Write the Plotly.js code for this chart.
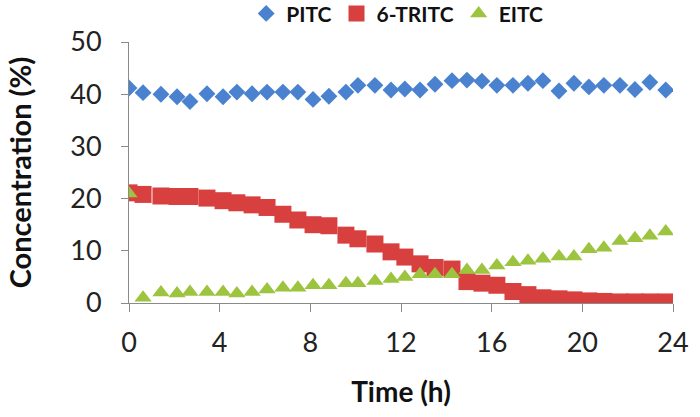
<!DOCTYPE html>
<html>
<head>
<meta charset="utf-8">
<script src="https://cdn.plot.ly/plotly-3.0.1.min.js"></script>
<style>html,body{margin:0;padding:0;background:#fff;}#chart{width:700px;height:417px;}</style>
</head>
<body>
<div id="chart"></div>
<script>
var timeH = [0, 0.62, 1.41, 2.12, 2.69, 3.44, 4.15, 4.76, 5.43, 6.09, 6.79, 7.45, 8.12, 8.82, 9.57, 10.1, 10.85, 11.56, 12.17, 12.84, 13.5, 14.25, 14.91, 15.57, 16.23, 16.94, 17.6, 18.26, 18.97, 19.63, 20.29, 20.95, 21.66, 22.32, 22.98, 23.68];
var pitc = [41.2, 40.3, 40, 39.5, 38.6, 40.1, 39.5, 40.4, 40.1, 40.4, 40.4, 40.4, 39, 39.6, 40.4, 41.7, 41.7, 40.8, 41, 40.8, 41.9, 42.6, 42.7, 42.5, 41.7, 41.7, 42.1, 42.6, 40.6, 42.1, 41.4, 41.7, 41.7, 40.9, 42.3, 40.8];
var tritc = [21.1, 20.8, 20.5, 20.4, 20.4, 20.1, 19.6, 19.2, 18.8, 18.3, 17.0, 15.9, 15.0, 14.8, 13.0, 12.3, 11.3, 9.8, 8.8, 7.5, 6.8, 6.5, 4.1, 3.8, 3.4, 2.2, 1.6, 1.0, 0.8, 0.6, 0.4, 0.3, 0.2, 0.2, 0.2, 0.2];
var eitc = [21, 1.0, 2.0, 1.8, 2.1, 2.1, 2.1, 1.8, 2.1, 2.6, 2.9, 2.9, 3.4, 3.4, 3.8, 3.8, 4.2, 4.6, 5.0, 5.5, 5.5, 5.5, 6.3, 6.3, 7.2, 7.8, 8.1, 8.5, 8.9, 8.9, 10.3, 10.6, 11.9, 12.4, 12.9, 13.7];
var seriesNames = ['PITC', '6-TRITC', 'EITC'];
var xTicks = [0, 4, 8, 12, 16, 20, 24];
var yTicks = [0, 10, 20, 30, 40, 50];

var FONT = 'Lato, "Open Sans", sans-serif';
var traces = [
  {x: timeH, y: pitc, name: seriesNames[0], type: 'scatter', mode: 'markers',
   marker: {symbol: 'diamond', size: 13, color: '#4a82d0'}},
  {x: timeH, y: tritc, name: seriesNames[1], type: 'scatter', mode: 'markers',
   marker: {symbol: 'square', size: 17, color: '#d8403f'}},
  {x: timeH, y: eitc, name: seriesNames[2], type: 'scatter', mode: 'markers',
   marker: {symbol: 'triangle-up', size: 15, color: '#9cc43e'}}
];
var layout = {
  width: 700, height: 417,
  margin: {l: 129, r: 27, t: 42, b: 114, autoexpand: false},
  paper_bgcolor: '#fff', plot_bgcolor: '#fff',
  showlegend: true,
  legend: {orientation: 'h', x: 0.493, xanchor: 'center', yref: 'container', y: 0.967, yanchor: 'middle',
    font: {family: FONT, size: 21, color: '#111', weight: 'bold'}, itemwidth: 30, tracegroupgap: 0},
  xaxis: {range: [0, 24], tickvals: xTicks, ticktext: xTicks.map(String), showgrid: false, zeroline: false,
    showline: true, linecolor: '#8a8a8a', linewidth: 1, ticks: 'outside', ticklen: 8, tickcolor: '#8a8a8a',
    ticklabelstandoff: 8,
    tickfont: {family: FONT, size: 27, color: '#222'},
    title: {text: 'Time (h)', font: {family: FONT, size: 28, color: '#111', weight: 'bold'}, standoff: 24}},
  yaxis: {range: [0, 50], tickvals: yTicks, ticktext: yTicks.map(String), showgrid: false, zeroline: false,
    showline: true, linecolor: '#8a8a8a', linewidth: 1, ticks: 'outside', ticklen: 7, tickcolor: '#8a8a8a',
    ticklabelstandoff: 14,
    tickfont: {family: FONT, size: 27, color: '#222'},
    title: {text: 'Concentration (%)', font: {family: FONT, size: 29, color: '#111', weight: 'bold'}, standoff: 30}}
};
Plotly.newPlot('chart', traces, layout, {displayModeBar: false, staticPlot: true});
</script>
</body>
</html>
